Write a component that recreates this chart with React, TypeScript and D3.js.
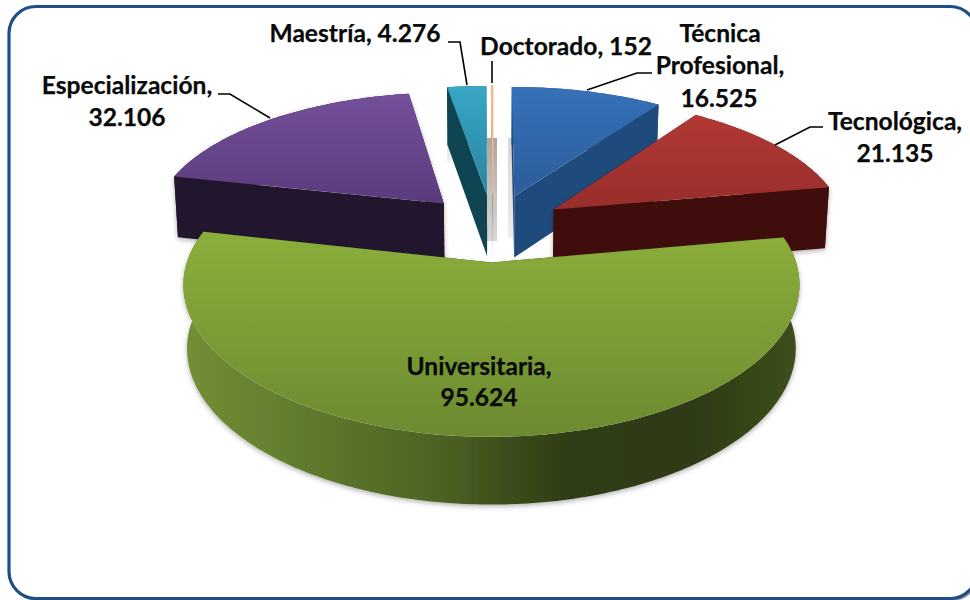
import React from "react";
import * as d3 from "d3";

const categories = ["Técnica Profesional", "Tecnológica", "Universitaria", "Especialización", "Maestría", "Doctorado"];
const values = [16525, 21135, 95624, 32106, 4276, 152];
const valueLabels = ["16.525", "21.135", "95.624", "32.106", "4.276", "152"];
const topColors = [["#3671b9", "#2c5c9a"], ["#b23835", "#982e2b"], ["#8bae3b", "#6c8a30"], ["#74509a", "#5a3b7c"], ["#38a6c6", "#2a85a0"], ["#f0b98e", "#dca27a"]];
const wallColors = ["#1f4a7c", "#3f0f0d", "#3a4c1c", "#22162d", "#0f4552", "#9a8878"];
const cutColors = ["#1f4a7c", "#3f0f0d", "#3a4c1c", "#22162d", "#0f4552", "#9a8878"];
const drawOrder = [5, 4, 0, 3, 1, 2];

const W = 970, H = 600;
const CX = 493, CY = 222, AX = 292, AY = 133.5, PERSP_X = 7, PERSP_Y = 6.5, DEPTH = 62, EXPLODE = 0.25, V0 = 0.04;

const xScale = d3.scaleLinear().domain([-1, 1]).range([CX - AX, CX + AX]);
const yScale = d3.scaleLinear().domain([-1, 1]).range([CY - AY, CY + AY]);

function project(u: number, v: number, bottom: boolean): [number, number] {
  const sx = 1 / (1 - v / PERSP_X);
  const sy = 1 / (1 - v / PERSP_Y);
  const x = xScale(u * sx);
  const y = yScale(v * sy);
  if (!bottom) return [x, y];
  return [CX + (x - CX) * 0.988, y + DEPTH * Math.pow(sy, 0.4)];
}

const arcs = d3.pie<number>().sort(null).value((d) => d).startAngle(0).endAngle(Math.PI * 2)(values);
const line = d3.line();

function sliceGeom(i: number) {
  const a = arcs[i];
  const mid = (a.startAngle + a.endAngle) / 2;
  const du = EXPLODE * Math.sin(mid);
  const dv = V0 - EXPLODE * Math.cos(mid);
  const n = Math.max(2, Math.ceil((a.endAngle - a.startAngle) * 60));
  const angles = d3.range(n + 1).map((k) => a.startAngle + ((a.endAngle - a.startAngle) * k) / n);
  const rim = (bottom: boolean) =>
    angles.map((t) => project(du + Math.sin(t), dv - Math.cos(t), bottom));
  const apexT = project(du, dv, false);
  const apexB = project(du, dv, true);
  const rimT = rim(false);
  const rimB = rim(true);
  return {
    top: line([apexT, ...rimT])! + "Z",
    wall: line([...rimT, ...rimB.slice().reverse()])! + "Z",
    cutA: line([apexT, rimT[0], rimB[0], apexB])! + "Z",
    cutB: line([apexT, rimT[n], rimB[n], apexB])! + "Z",
    yMin: d3.min(rimT, (p) => p[1])!,
    yMax: d3.max([apexT, ...rimT], (p) => p[1])!,
  };
}

const geoms = values.map((_, i) => sliceGeom(i));

const labelLines = [
  [{ t: "Técnica", x: 720, y: 42 }, { t: "Profesional,", x: 720, y: 74 }, { t: valueLabels[0], x: 719, y: 107 }],
  [{ t: categories[1] + ",", x: 895, y: 130 }, { t: valueLabels[1], x: 895, y: 162 }],
  [{ t: categories[2] + ",", x: 479, y: 375 }, { t: valueLabels[2], x: 479, y: 406 }],
  [{ t: categories[3] + ",", x: 127, y: 94 }, { t: valueLabels[3], x: 127, y: 126 }],
  [{ t: categories[4] + ", " + valueLabels[4], x: 355, y: 42 }],
  [{ t: categories[5] + ", " + valueLabels[5], x: 566, y: 55 }],
];
const leaders: [number, number][][] = [
  [[587, 90], [637, 73], [652, 73]],
  [[775, 145], [810, 127], [823, 127]],
  [[218, 94], [230, 94], [270, 118]],
  [[448, 42], [460, 42], [467, 85]],
  [[492, 61], [492, 83]],
];

export default function App() {
  return (
    <svg width={W} height={H} viewBox={`0 0 ${W} ${H}`} style={{ position: "fixed", left: 0, top: 0, background: "#fff" }}>
      <defs>
        {geoms.map((g, i) => (
          <linearGradient key={i} id={`top${i}`} gradientUnits="userSpaceOnUse" x1={0} x2={0} y1={g.yMin} y2={g.yMax}>
            <stop offset="0%" stopColor={topColors[i][0]} />
            <stop offset="100%" stopColor={topColors[i][1]} />
          </linearGradient>
        ))}
        <linearGradient id="wallGreen" gradientUnits="userSpaceOnUse" x1={185} x2={800} y1={0} y2={0}>
          <stop offset="0%" stopColor="#728f35" />
          <stop offset="20%" stopColor="#5f7a2d" />
          <stop offset="42%" stopColor="#4b6224" />
          <stop offset="62%" stopColor="#2f3d14" />
          <stop offset="82%" stopColor="#2d3a12" />
          <stop offset="100%" stopColor="#3d501c" />
        </linearGradient>
        <linearGradient id="shadowGrad" x1={0} x2={0} y1={0} y2={1}>
          <stop offset="0%" stopColor="#a9a6a2" />
          <stop offset="100%" stopColor="#d9d7d5" />
        </linearGradient>
        <filter id="soft" x="-10%" y="-10%" width="120%" height="120%">
          <feDropShadow dx={0} dy={2} stdDeviation={2.5} floodColor="#000" floodOpacity={0.3} />
        </filter>
      </defs>

      <rect x={11} y={8} width={968} height={593} rx={27} fill="#9a9a9a" />
      <rect x={9} y={6.5} width={968} height={592} rx={27} fill="#fff" stroke="#1f4e87" strokeWidth={3.2} />

      <rect x={487} y={138} width={10} height={103} fill="url(#shadowGrad)" />
      <rect x={508} y={138} width={5} height={100} fill="url(#shadowGrad)" opacity={0.45} />
      <rect x={447} y={138} width={4} height={24} fill="url(#shadowGrad)" opacity={0.35} />

      {drawOrder.map((i) => {
        const g = geoms[i];
        return (
          <g key={categories[i]}>
            <g filter={i === 2 || i === 3 || i === 1 ? "url(#soft)" : undefined}>
              <path d={g.cutA} fill={cutColors[i]} />
              <path d={g.cutB} fill={cutColors[i]} />
              <path d={g.wall} fill={i === 2 ? "url(#wallGreen)" : wallColors[i]} />
            </g>
            <path d={g.top} fill={`url(#top${i})`} stroke={i === 5 ? topColors[5][0] : "none"} strokeWidth={i === 5 ? 1.2 : 0} />
          </g>
        );
      })}

      {leaders.map((pts, i) => (
        <path key={i} d={line(pts)!} fill="none" stroke="#000" strokeWidth={1.6} />
      ))}

      <g fontFamily="Lato, 'Open Sans', sans-serif" fontWeight={700} fontSize={24.6} fill="#0a0a0a" stroke="#0a0a0a" strokeWidth={0.25} textAnchor="middle">
        {labelLines.flat().map((l, i) => (
          <text key={i} x={l.x} y={l.y}>{l.t}</text>
        ))}
      </g>
    </svg>
  );
}
